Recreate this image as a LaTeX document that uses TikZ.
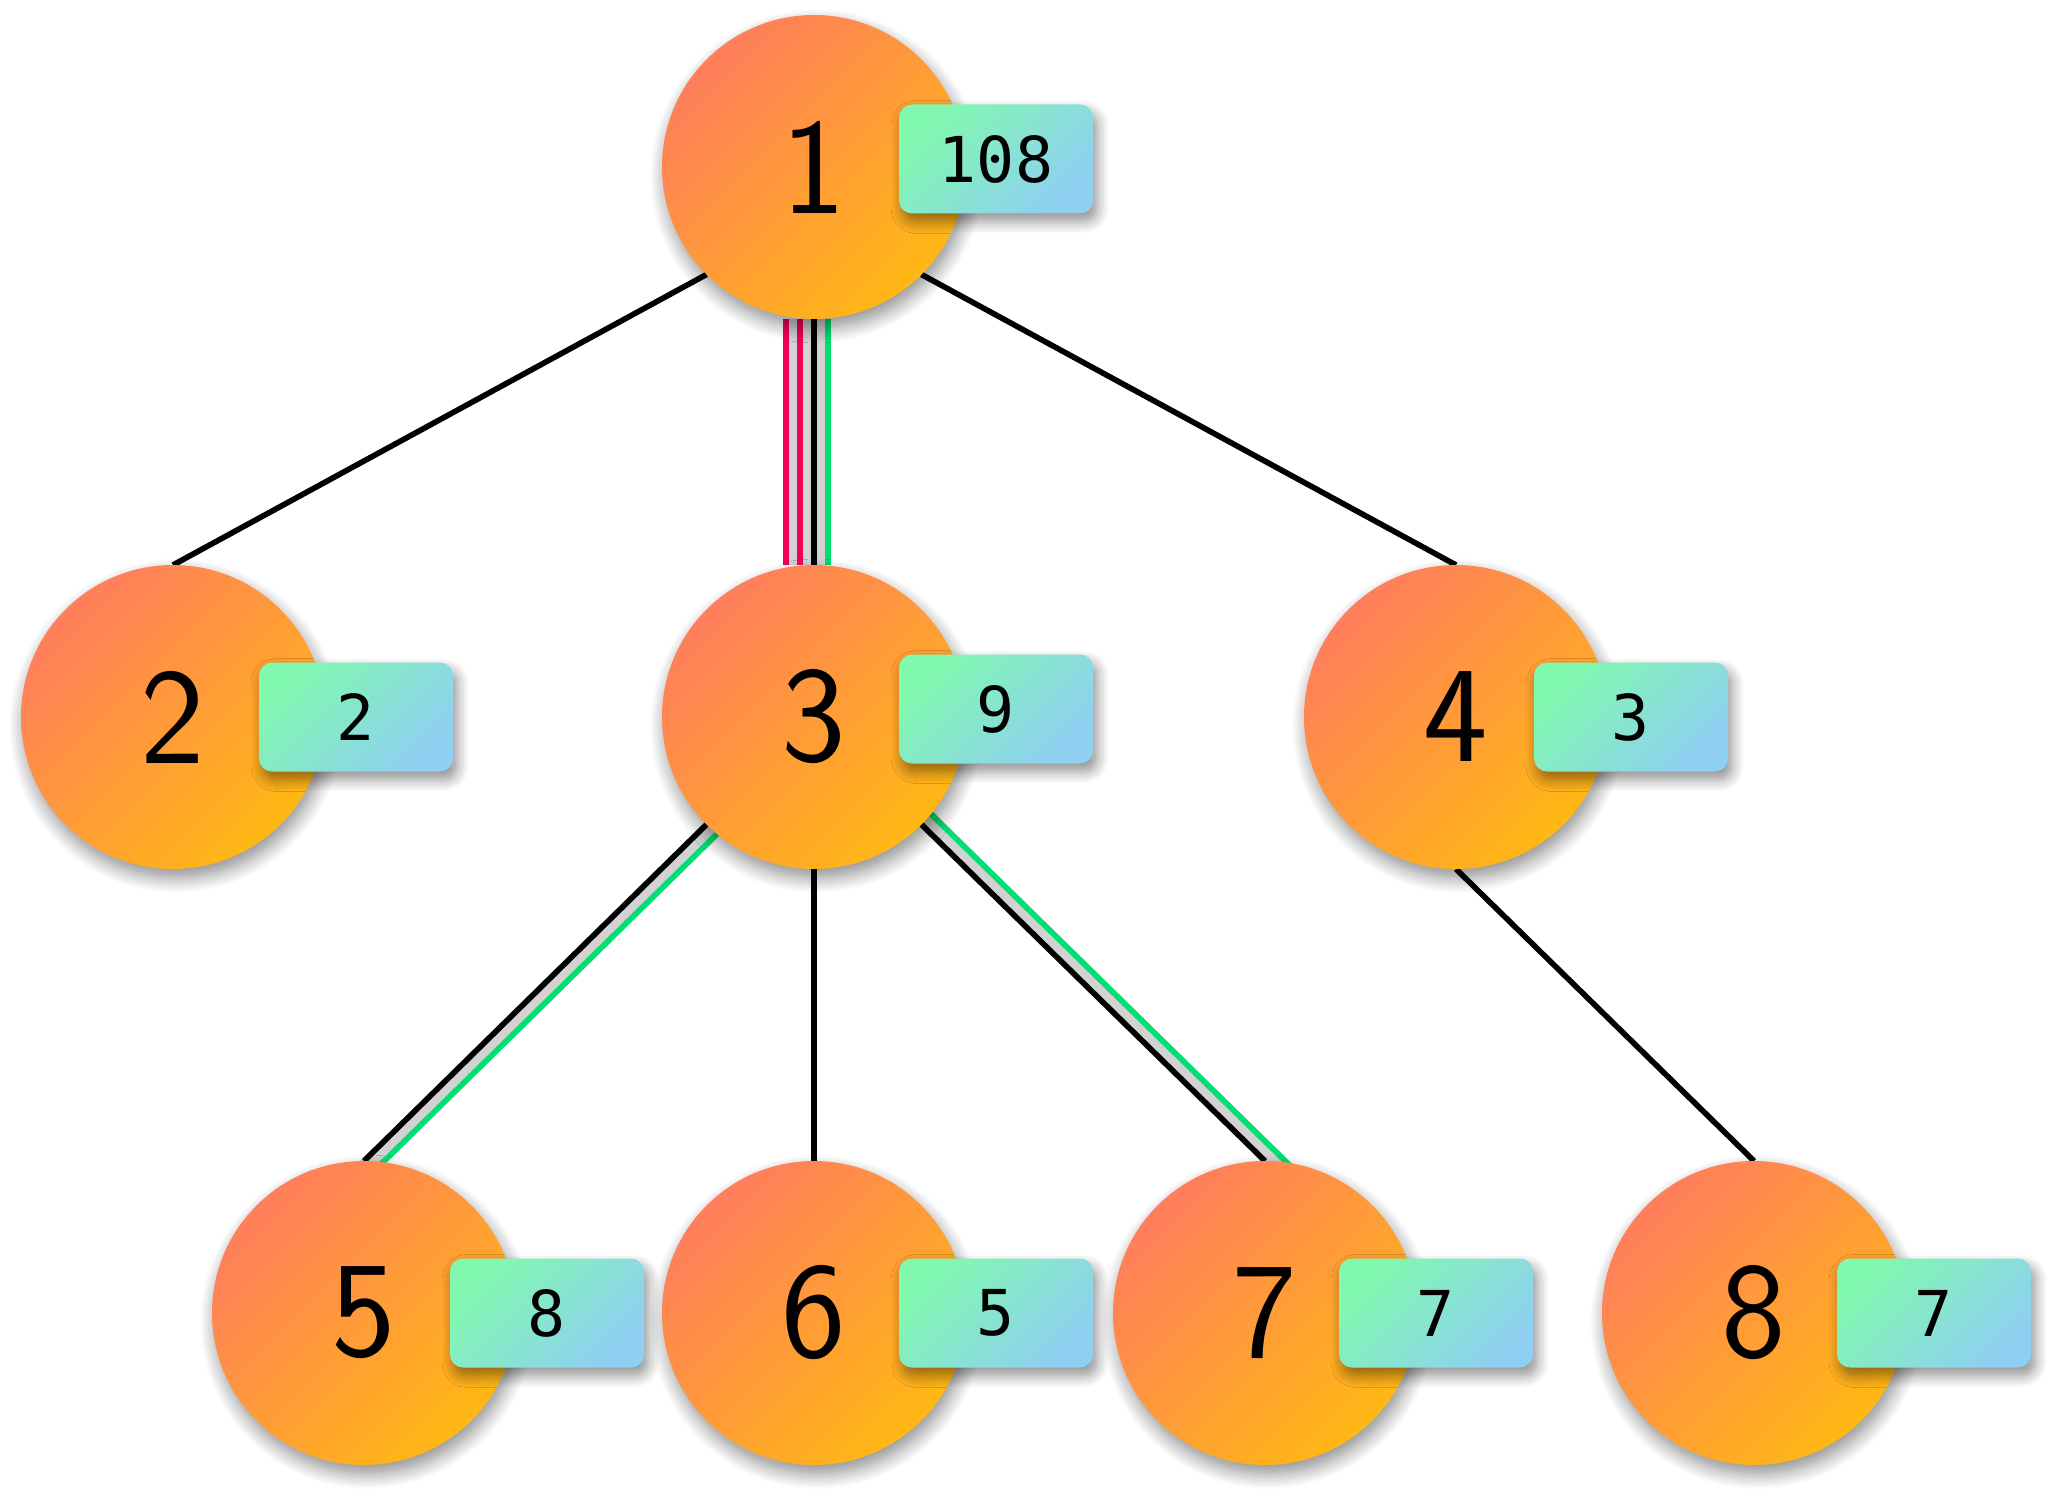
\documentclass[tikz,border=0pt]{standalone}
\usepackage{fontspec}
\usepackage{xcolor}
\usepackage{tikz}
\usetikzlibrary{positioning, backgrounds, shadows.blur}
\newfontfamily\badgefont{DejaVu Sans Mono}
\definecolor{coral}{HTML}{FF7E5C}
\definecolor{amber}{HTML}{FFB814}
\definecolor{mint}{HTML}{80F9AE}
\definecolor{sky}{HTML}{8FCFF2}
\definecolor{crimson}{HTML}{F2005A}
\definecolor{leaf}{HTML}{00E070}
\definecolor{gapgray}{HTML}{D2D2D2}
\tikzstyle{vertex} = [circle, minimum size=3.04cm, inner sep=0pt, outer sep=0pt, top color=coral, bottom color=amber, shading angle=45, font=\sffamily\fontsize{39}{39}\selectfont, blur shadow={shadow xshift=0.3mm, shadow yshift=-0.9mm, shadow blur radius=1.5mm, shadow blur steps=10, shadow opacity=45}]
\tikzstyle{badge} = [rectangle, rounded corners=0.13cm, minimum width=1.94cm, minimum height=1.09cm, inner sep=0pt, top color=mint, bottom color=sky, shading angle=45, font=\badgefont\fontsize{18}{18}\selectfont, blur shadow={shadow xshift=0.4mm, shadow yshift=-0.8mm, shadow blur radius=1.2mm, shadow blur steps=8, shadow opacity=45}]
\tikzstyle{line} = [draw, line width=1.6pt]
\tikzstyle{gap} = [draw=gapgray, line width=0.2cm]
\tikzstyle{longer} = [shorten <=-0.3cm, shorten >=-0.3cm]

\begin{document}
\begin{tikzpicture}
    \useasboundingbox (0,0) rectangle (20.53,14.97);
    % Nodes
    \node [vertex] (n1) at (8.14,13.30) {1};
    \node [badge] (b1) at ([shift={(1.82,0.08)}]n1.center) {108};
    \node [vertex] (n2) at (1.73,7.80) {2};
    \node [badge] (b2) at ([shift={(1.83,0)}]n2.center) {2};
    \node [vertex] (n3) at (8.14,7.80) {3};
    \node [badge] (b3) at ([shift={(1.82,0.08)}]n3.center) {9};
    \node [vertex] (n4) at (14.56,7.80) {4};
    \node [badge] (b4) at ([shift={(1.75,0)}]n4.center) {3};
    \node [vertex] (n5) at (3.64,1.84) {5};
    \node [badge] (b5) at ([shift={(1.83,0)}]n5.center) {8};
    \node [vertex] (n6) at (8.14,1.84) {6};
    \node [badge] (b6) at ([shift={(1.82,0)}]n6.center) {5};
    \node [vertex] (n7) at (12.65,1.84) {7};
    \node [badge] (b7) at ([shift={(1.71,0)}]n7.center) {7};
    \node [vertex] (n8) at (17.54,1.84) {8};
    \node [badge] (b8) at ([shift={(1.80,0)}]n8.center) {7};

    % Edges
    \begin{scope}[on background layer]
    \path [gap, line width=0.46cm] ([xshift=-0.06cm]n1.south) -- ([xshift=-0.06cm]n3.north);
    \path [gap, longer] ([shift={(0.05,-0.05)}]n3.south west) -- ([shift={(0.05,-0.05)}]n5.north);
    \path [gap, longer] ([shift={(0.05,0.05)}]n3.south east) -- ([shift={(0.05,0.05)}]n7.north);
    \path [line] (n1.south west) -- (n2.north);
    \path [line] (n1.south east) -- (n4.north);
    \path [line, draw=crimson] ([xshift=-0.28cm]n1.south) -- ([xshift=-0.28cm]n3.north);
    \path [line, draw=crimson] ([xshift=-0.14cm]n1.south) -- ([xshift=-0.14cm]n3.north);
    \path [line] (n1.south) -- (n3.north);
    \path [line, draw=leaf] ([xshift=0.14cm]n1.south) -- ([xshift=0.14cm]n3.north);
    \path [line] (n3.south west) -- (n5.north);
    \path [line, longer, draw=leaf] ([shift={(0.1,-0.1)}]n3.south west) -- ([shift={(0.1,-0.1)}]n5.north);
    \path [line] (n3.south) -- (n6.north);
    \path [line] (n3.south east) -- (n7.north);
    \path [line, longer, draw=leaf] ([shift={(0.1,0.1)}]n3.south east) -- ([shift={(0.1,0.1)}]n7.north);
    \path [line] (n4.south) -- (n8.north);
    \end{scope}
\end{tikzpicture}
\end{document}
